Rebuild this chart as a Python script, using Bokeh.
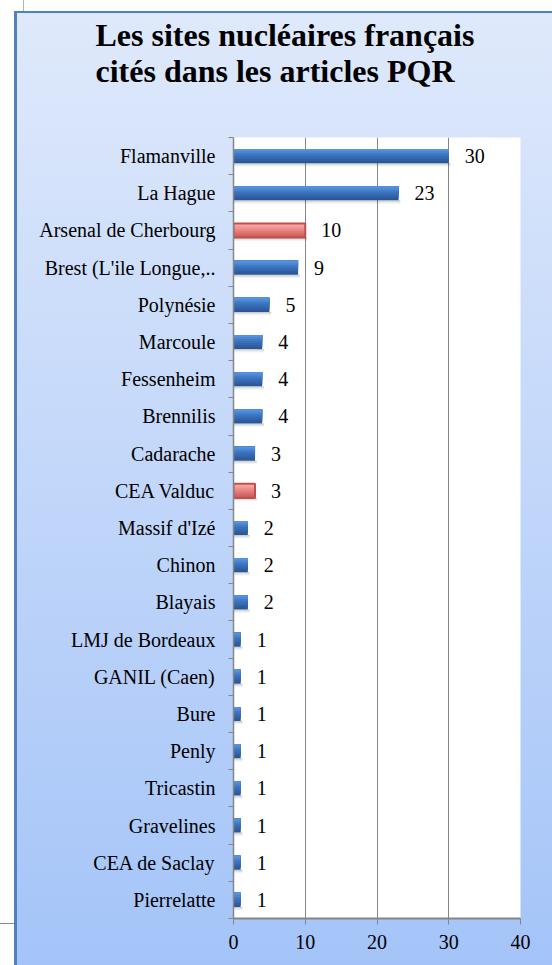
import numpy as np
from bokeh.plotting import figure
from bokeh.models import Range1d, FixedTicker, Title
from bokeh.core.properties import value
from bokeh.embed import file_html
from bokeh.resources import INLINE

# ---------------- data ----------------
title_lines = ["Les sites nucléaires français", "cités dans les articles PQR"]
sites = [
    "Flamanville", "La Hague", "Arsenal de Cherbourg", "Brest (L'ile Longue,..",
    "Polynésie", "Marcoule", "Fessenheim", "Brennilis", "Cadarache", "CEA Valduc",
    "Massif d'Izé", "Chinon", "Blayais", "LMJ de Bordeaux", "GANIL (Caen)", "Bure",
    "Penly", "Tricastin", "Gravelines", "CEA de Saclay", "Pierrelatte",
]
counts = [30, 23, 10, 9, 5, 4, 4, 4, 3, 3, 2, 2, 2, 1, 1, 1, 1, 1, 1, 1, 1]
highlighted = [False, False, True, False, False, False, False, False, False, True,
               False, False, False, False, False, False, False, False, False, False, False]
x_ticks = [0, 10, 20, 30, 40]

# ---------------- styles ----------------
FONT = "Liberation Serif"
BLUE_STEPS = ["#5692de", "#4b87d3", "#4179c6", "#3a70bb", "#3467ae", "#2f5fa2", "#2a5795"]
RED_STEPS = ["#fbaaa8", "#f59c9a", "#ee8f8d", "#e68280", "#dd7573", "#d36a67", "#c85f5c"]
BAR_H = 0.38

n = len(sites)
ypos = np.arange(n - 1, -1, -1, dtype=float)
vals = np.array(counts, dtype=float)
hl = np.array(highlighted)

p = figure(width=552, height=965, output_backend="svg", toolbar_location=None,
           x_range=Range1d(0, 40), y_range=Range1d(-0.5, n - 0.5),
           min_border_left=233, min_border_right=32, min_border_top=137,
           min_border_bottom=47)
p.title = None
p.border_fill_color = None
p.background_fill_color = "white"
p.outline_line_color = None
p.styles = {
    "background": (
        "linear-gradient(#b4b4b4,#b4b4b4) 23px 0px / 1px 11px no-repeat, "
        "linear-gradient(#8a8a8a,#8a8a8a) 0px 923px / 14px 1px no-repeat, "
        "linear-gradient(#4f81bd,#4f81bd) 14px 11px / 3px calc(100% - 11px) no-repeat, "
        "linear-gradient(#4f81bd,#4f81bd) 14px 11px / calc(100% - 14px) 2px no-repeat, "
        "linear-gradient(to bottom, #dfe9fb, #a4c4f8) 14px 11px / calc(100% - 14px) calc(100% - 11px) no-repeat, "
        "white"
    )
}

# spacer between the title and the plot area (first added = closest to plot)
p.add_layout(Title(text=" ", text_font_size="1px", standoff=46), "above")
# title
p.add_layout(Title(text="\n".join(title_lines), align="left", offset=-138, standoff=0,
                   text_font=FONT, text_font_size="32px", text_font_style="bold",
                   text_line_height=1.0, text_color="black"), "above")

# shadows
for i, a in enumerate([0.20, 0.11, 0.05]):
    p.hbar(y=ypos - BAR_H / 2 - (i + 0.5) * 0.03, left=0, right=vals + 0.25,
           height=0.03, fill_color="black", fill_alpha=a, line_color=None)

# bars: layered from full (darkest) to thin top slice (lightest)
k = len(BLUE_STEPS)
top = ypos + BAR_H / 2
for i in reversed(range(k)):
    hgt = BAR_H * (i + 1) / k
    cols = [RED_STEPS[i] if h else BLUE_STEPS[i] for h in hl]
    p.hbar(y=top - hgt / 2, left=0, right=vals, height=hgt,
           fill_color=cols, line_color=None)
# red outline for highlighted bars
p.hbar(y=ypos[hl], left=0, right=vals[hl], height=BAR_H,
       fill_color=None, line_color="#c0504d", line_width=2)

# value labels
p.text(x=vals, y=ypos, text=[str(c) for c in counts], x_offset=16,
       text_align="left", text_baseline="middle", text_font=value(FONT),
       text_font_size="20px", text_color="black")

# axes
p.yaxis.ticker = FixedTicker(ticks=list(ypos), minor_ticks=[i - 0.5 for i in range(n + 1)])
p.yaxis.major_label_overrides = {int(y): s for y, s in zip(ypos, sites)}
p.yaxis.major_tick_out = 0
p.yaxis.major_tick_in = 0
p.yaxis.minor_tick_out = 5
p.yaxis.minor_tick_in = 0
p.yaxis.minor_tick_line_color = "#868686"
p.yaxis.axis_line_color = "#868686"
p.yaxis.axis_line_width = 1.5
p.yaxis.major_label_standoff = 13

p.xaxis.ticker = FixedTicker(ticks=x_ticks)
p.xaxis.major_tick_out = 6
p.xaxis.major_tick_in = 0
p.xaxis.minor_tick_line_color = None
p.xaxis.major_tick_line_color = "#868686"
p.xaxis.axis_line_color = "#868686"
p.xaxis.axis_line_width = 2
p.xaxis.major_label_standoff = 10

for ax in (p.xaxis, p.yaxis):
    ax.major_label_text_font = FONT
    ax.major_label_text_font_size = "20px"
    ax.major_label_text_color = "black"

p.xgrid.ticker = FixedTicker(ticks=x_ticks)
p.xgrid.grid_line_color = "#868686"
p.xgrid.grid_line_width = 1
p.ygrid.grid_line_color = None

open("out.html", "w").write(file_html(p, INLINE))
